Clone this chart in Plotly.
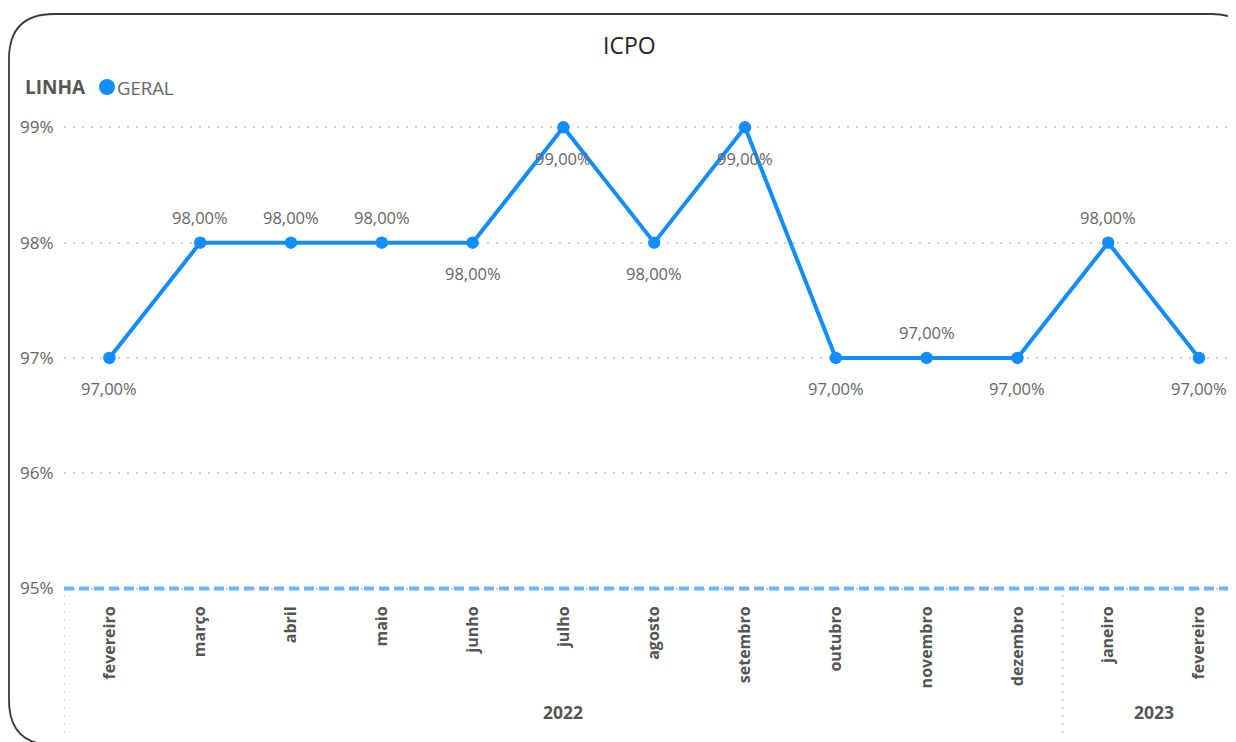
import plotly.graph_objects as go

months = ["fevereiro", "março", "abril", "maio", "junho", "julho", "agosto",
          "setembro", "outubro", "novembro", "dezembro", "janeiro", "fevereiro"]
years = ["2022"] * 11 + ["2023"] * 2
values = [97, 98, 98, 98, 98, 99, 98, 99, 97, 97, 97, 98, 97]
target = 95
y_ticks = [95, 96, 97, 98, 99]
label_side = ["below", "above", "above", "above", "below", "below", "below",
              "below", "below", "above", "below", "above", "below"]

BLUE = "#118DFF"
FONT = "Open Sans"

# page offset (default body margin of the html page)
OFF = 8
PX_PER_PCT = 115.3
Y_MIN = 94.97
y_bottom_page = 589 + (95 - Y_MIN) * PX_PER_PCT
W, H = 1236 - OFF, 742 - OFF
L, R = 64 - OFF, 0
T = 116 - OFF
B = round(H - (y_bottom_page - OFF))
pw = W - L - R
ph = H - T - B


def px(x):  # page x -> paper
    return (x - OFF - L) / pw


def py(y):  # page y -> paper
    return (H - B - (y - OFF)) / ph


x_idx = list(range(len(months)))

fig = go.Figure()
fig.add_trace(go.Scatter(
    x=[-0.5, 12.5], y=[target, target], mode="lines",
    line=dict(color="#6CB6FF", width=4, dash="10px,5px"),
    showlegend=False, hoverinfo="skip",
))
fig.add_trace(go.Scatter(
    x=x_idx, y=values, mode="lines+markers",
    line=dict(color=BLUE, width=4),
    marker=dict(color=BLUE, size=12.5),
    name="GERAL", showlegend=False,
    hovertemplate="%{y:.2f}%<extra></extra>",
))

for i, (v, side) in enumerate(zip(values, label_side)):
    fig.add_annotation(
        x=i, y=v, xref="x", yref="y", showarrow=False,
        text=f"{v:.2f}%".replace(".", ","),
        yanchor="middle", xanchor="center",
        yshift=(-31 if side == "below" else 25),
        font=dict(family=FONT, size=16.5, color="#666666"),
    )

# year group labels
for yr in sorted(set(years)):
    idxs = [i for i, y in enumerate(years) if y == yr]
    fig.add_annotation(
        x=(idxs[0] + idxs[-1]) / 2, y=py(712), xref="x", yref="paper",
        text=f"<b>{yr}</b>", showarrow=False, yanchor="middle",
        font=dict(family=FONT, size=17.5, color="#555555"),
    )

fig.add_annotation(x=px(629), y=py(45), xref="paper", yref="paper", text="ICPO",
                   showarrow=False, xanchor="center", yanchor="middle",
                   font=dict(family=FONT, size=23, color="#252423"))
fig.add_annotation(x=px(23), y=py(87), xref="paper", yref="paper", text="<b>LINHA</b>",
                   xanchor="left", yanchor="middle", showarrow=False,
                   font=dict(family=FONT, size=19, color="#555555"))
fig.add_annotation(x=px(115), y=py(87), xref="paper", yref="paper", text="GERAL",
                   xanchor="left", yanchor="middle", showarrow=False,
                   font=dict(family=FONT, size=18.5, color="#666666"))

shapes = []
# legend dot
shapes.append(dict(type="circle", xref="paper", yref="paper",
                   xsizemode="pixel", ysizemode="pixel",
                   xanchor=px(107), yanchor=py(87),
                   x0=-8, x1=8, y0=-8, y1=8,
                   fillcolor=BLUE, line=dict(width=0)))
# group separators
for xs in [-0.5, 10.5]:
    shapes.append(dict(type="line", xref="x", yref="paper",
                       x0=xs, x1=xs, y0=py(595), y1=py(738),
                       line=dict(color="#C8C8C8", width=1.5, dash="2px,6px")))
# rounded border (pixel coords relative to plot origin, y up)
ox, oy = L + OFF, H - B + OFF


def P(x, y):
    return f"{x - ox},{oy - y}"


r = 45
xl, xr, yt, yb = 9, 1256, 14, 745
path = (f"M {P(xl, yb - r)} L {P(xl, yt + r)} Q {P(xl, yt)} {P(xl + r, yt)} "
        f"L {P(xr - r, yt)} Q {P(xr, yt)} {P(xr, yt + r)} "
        f"L {P(xr, yb - r)} Q {P(xr, yb)} {P(xr - r, yb)} "
        f"L {P(xl + r, yb)} Q {P(xl, yb)} {P(xl, yb - r)} Z")
shapes.append(dict(type="path", xref="paper", yref="paper",
                   xsizemode="pixel", ysizemode="pixel",
                   xanchor=0, yanchor=0, path=path,
                   line=dict(color="#3A3A3A", width=1.8), layer="above"))
fig.update_layout(shapes=shapes)

fig.update_xaxes(
    range=[-0.5, -0.5 + pw / 90.8],
    tickmode="array", tickvals=x_idx,
    ticktext=[f"<b>{m}</b>" for m in months],
    tickangle=-90, showgrid=False, zeroline=False, showline=False,
    tickfont=dict(family=FONT, size=16, color="#555555"),
    ticks="outside", ticklen=7, tickcolor="rgba(0,0,0,0)",
)
fig.update_yaxes(
    range=[Y_MIN, Y_MIN + ph / PX_PER_PCT],
    tickmode="array", tickvals=y_ticks, ticktext=[f"{t}%" for t in y_ticks],
    showgrid=True, gridcolor="#CFCFCF", griddash="2px,7px", gridwidth=1.5,
    zeroline=False, showline=False,
    tickfont=dict(family=FONT, size=17, color="#666666"),
    ticks="outside", ticklen=6, tickcolor="rgba(0,0,0,0)",
)

fig.update_layout(
    width=W, height=H,
    margin=dict(l=L, r=R, t=T, b=B, autoexpand=False),
    plot_bgcolor="white", paper_bgcolor="white",
    showlegend=False,
    font=dict(family=FONT),
)

fig.write_html("out.html")
